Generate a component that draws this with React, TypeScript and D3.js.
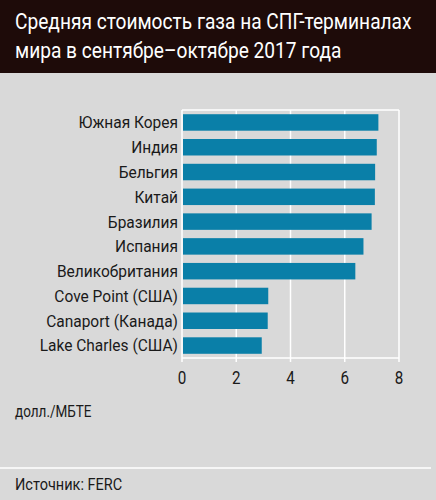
import React, { useEffect } from 'react';
import * as d3 from 'd3';

const categories = [
  'Южная Корея',
  'Индия',
  'Бельгия',
  'Китай',
  'Бразилия',
  'Испания',
  'Великобритания',
  'Cove Point (США)',
  'Canaport (Канада)',
  'Lake Charles (США)',
];

const prices = [7.24, 7.18, 7.12, 7.11, 6.99, 6.69, 6.39, 3.18, 3.16, 2.94];

const xTicks = [0, 2, 4, 6, 8];

const titleLines = ['Средняя стоимость газа на СПГ-терминалах', 'мира в сентябре–октябре 2017 года'];
const unitLabel = 'долл./МБТЕ';
const sourceLabel = 'Источник: FERC';

const FONT = 'Roboto, "DejaVu Sans", sans-serif';

// text squeezed horizontally around its anchor point (fake condensed face)
const NarrowText = ({ x, y, size, sx = 0.85, anchor = 'start', fill = '#1a1a1a', dy, children }: any) => (
  <text
    transform={`translate(${x},${y}) scale(${sx},1)`}
    fontSize={size}
    textAnchor={anchor}
    fill={fill}
    dy={dy}
  >
    {children}
  </text>
);

const App: React.FC = () => {
  useEffect(() => {
    document.body.style.margin = '0';
  }, []);

  const width = 436;
  const height = 500;
  const margin = { top: 110, right: 37, bottom: 142, left: 182 };

  const xScale = d3.scaleLinear().domain([0, 8]).range([margin.left, width - margin.right]);

  const yScale = d3
    .scaleBand<string>()
    .domain(categories)
    .range([margin.top, height - margin.bottom])
    .paddingInner(0.335)
    .paddingOuter(0.17);

  const plotBottom = height - margin.bottom;

  return (
    <svg width={width} height={height} style={{ display: 'block', fontFamily: FONT }}>
      <rect x={0} y={0} width={width} height={height} fill="#d9d9d9" />
      <rect x={0} y={0} width={width} height={73} fill="#1e0b09" />
      {titleLines.map((t, i) => (
        <NarrowText key={t} x={15} y={29 + i * 29} size={22} sx={0.87} fill="#ffffff">
          {t}
        </NarrowText>
      ))}

      {/* frame and grid */}
      <line x1={xScale(0)} x2={xScale(8)} y1={margin.top} y2={margin.top} stroke="#fff" strokeWidth={1.5} />
      <line x1={xScale(0)} x2={xScale(8)} y1={plotBottom} y2={plotBottom} stroke="#fff" strokeWidth={1.5} />
      {xTicks.map((t) => (
        <line key={t} x1={xScale(t)} x2={xScale(t)} y1={margin.top} y2={plotBottom + 4} stroke="#fff" strokeWidth={1.5} />
      ))}

      {/* bars */}
      {categories.map((c, i) => (
        <rect
          key={c}
          x={xScale(0) + 1}
          y={yScale(c)!}
          width={xScale(prices[i]) - xScale(0) - 1}
          height={yScale.bandwidth()}
          fill="#0a7fa8"
        />
      ))}

      {/* category labels */}
      {categories.map((c) => (
        <NarrowText
          key={c}
          x={margin.left - 4}
          y={yScale(c)! + yScale.bandwidth() / 2}
          dy="0.36em"
          anchor="end"
          size={16.5}
          sx={0.94}
        >
          {c}
        </NarrowText>
      ))}

      {/* tick labels */}
      {xTicks.map((t) => (
        <NarrowText key={t} x={xScale(t)} y={384} anchor="middle" size={19} sx={0.8}>
          {t}
        </NarrowText>
      ))}

      <NarrowText x={15} y={417} size={16.5} sx={0.82}>
        {unitLabel}
      </NarrowText>
      <line x1={0} x2={431} y1={468} y2={468} stroke="#fff" strokeWidth={1.5} />
      <NarrowText x={15} y={490} size={16.5} sx={0.88}>
        {sourceLabel}
      </NarrowText>
    </svg>
  );
};

export default App;
